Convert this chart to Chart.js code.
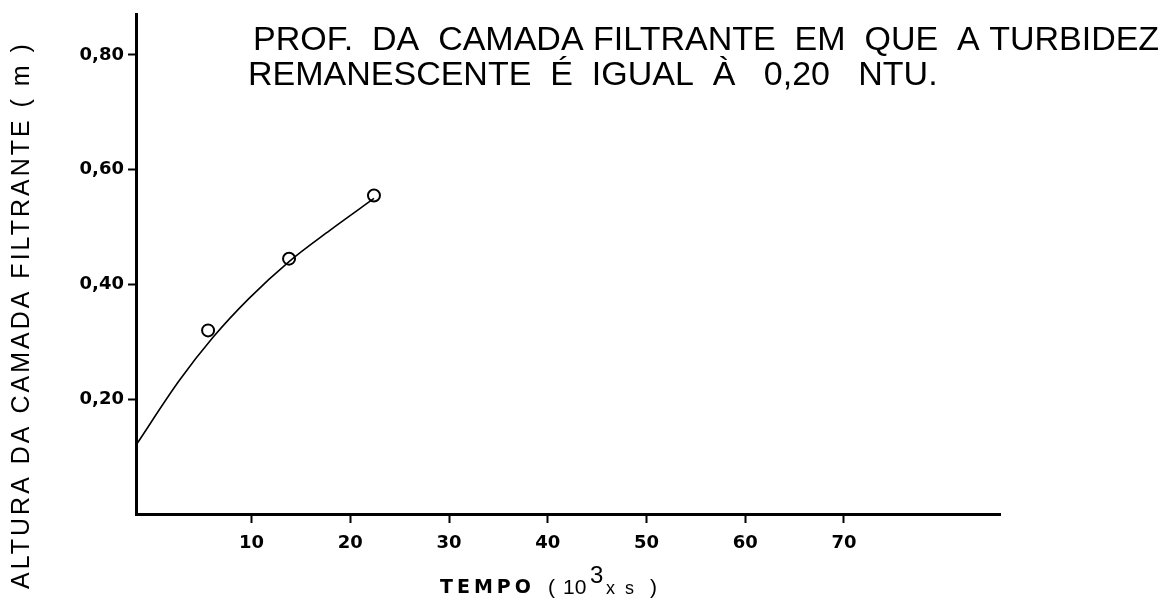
<!DOCTYPE html>
<html lang="pt-BR">
<head>
<meta charset="utf-8">
<title>Profundidade da camada filtrante</title>
<script src="https://cdn.jsdelivr.net/npm/chart.js@4.4.1/dist/chart.umd.min.js"></script>
<style>
    html, body { margin: 0; padding: 0; background: #fff; }
    #caixa { position: relative; width: 1170px; height: 604px; }
</style>
</head>
<body>
<div id="caixa"><canvas id="profChart"></canvas></div>
<script>
// Dados
const tempoPontos = [5.6, 13.8, 22.4];       // 10^3 x s
const alturaPontos = [0.32, 0.445, 0.555];   // m

// Curva ajustada (traço contínuo)
const tempoCurva = [-1.7, 2.7, 6.1, 9.7, 13.8, 17.9, 22.4];
const alturaCurva = [0.12, 0.233, 0.308, 0.375, 0.44, 0.494, 0.55];

// Marcas dos eixos
const tempoTicks = [10, 20, 30, 40, 50, 60, 70];
const alturaTicks = [0.2, 0.4, 0.6, 0.8];
const alturaRotulos = ['0,20', '0,40', '0,60', '0,80'];

// Textos
const tituloLinha1 = 'PROF.  DA  CAMADA FILTRANTE  EM  QUE  A TURBIDEZ';
const tituloLinha2 = 'REMANESCENTE  É  IGUAL  À   0,20   NTU.';
const tituloY = 'ALTURA DA CAMADA FILTRANTE ( m )';

// Escreve o título e os nomes dos eixos
const textos = {
    id: 'textos',
    afterDraw(chart) {
        const c = chart.ctx;
        c.save();
        c.fillStyle = '#000';
        c.textBaseline = 'alphabetic';

        c.font = '34px "Liberation Sans"';
        c.fillText(tituloLinha1, 253, 50, 912);
        c.fillText(tituloLinha2, 248, 85, 690);

        // eixo x: TEMPO ( 10^3 x s )
        c.font = 'bold 19px "DejaVu Sans"';
        c.letterSpacing = '4px';
        c.fillText('TEMPO', 440, 593);
        c.letterSpacing = '0px';
        c.font = '21px "Liberation Sans"';
        c.fillText('(', 548, 594);
        c.fillText('10', 563, 594);
        c.font = '24px "Liberation Sans"';
        c.fillText('3', 590, 583);
        c.font = '18px "Liberation Sans"';
        c.fillText('x  s', 606, 594);
        c.font = '21px "Liberation Sans"';
        c.fillText(')', 650, 594);

        // eixo y
        c.translate(29, 315);
        c.rotate(-Math.PI / 2);
        c.textAlign = 'center';
        c.font = '25px "Liberation Sans"';
        c.letterSpacing = '3px';
        c.fillText(tituloY, 0, 0);
        c.restore();
    }
};

const ctx = document.getElementById('profChart').getContext('2d');

const profChart = new Chart(ctx, {
    type: 'scatter',
    data: {
        datasets: [
            {
                label: 'curva',
                data: tempoCurva.map((t, i) => ({ x: t, y: alturaCurva[i] })),
                showLine: true,
                borderColor: '#000',
                borderWidth: 1.6,
                pointRadius: 0,
                cubicInterpolationMode: 'monotone'
            },
            {
                label: 'pontos',
                data: tempoPontos.map((t, i) => ({ x: t, y: alturaPontos[i] })),
                showLine: false,
                pointRadius: 6,
                pointBorderWidth: 2,
                pointBackgroundColor: '#fff',
                pointBorderColor: '#000'
            }
        ]
    },
    options: {
        responsive: true,
        maintainAspectRatio: false,
        animation: false,
        layout: { padding: { top: 8, right: 170, left: 0, bottom: 0 } },
        plugins: {
            legend: { display: false },
            tooltip: { enabled: false }
        },
        scales: {
            x: {
                type: 'linear',
                min: -1.7,
                max: 85.8,
                afterFit: (scale) => { scale.height = 90; },
                afterBuildTicks: (scale) => {
                    scale.ticks = tempoTicks.map(v => ({ value: v }));
                },
                ticks: {
                    color: '#000',
                    padding: 10,
                    font: { family: 'DejaVu Sans', size: 18, weight: 'bold' },
                    callback: (v) => String(v)
                },
                grid: {
                    drawOnChartArea: false,
                    drawTicks: true,
                    tickLength: 9,
                    tickWidth: 2,
                    tickColor: '#000'
                },
                border: { display: true, color: '#000', width: 3 }
            },
            y: {
                type: 'linear',
                min: 0,
                max: 0.87,
                afterFit: (scale) => { scale.width = 136; },
                afterBuildTicks: (scale) => {
                    scale.ticks = alturaTicks.map(v => ({ value: v }));
                },
                ticks: {
                    color: '#000',
                    padding: 4,
                    font: { family: 'DejaVu Sans', size: 18, weight: 'bold' },
                    callback: (v) => alturaRotulos[alturaTicks.indexOf(v)]
                },
                grid: {
                    drawOnChartArea: false,
                    drawTicks: true,
                    tickLength: 8,
                    tickWidth: 2,
                    tickColor: '#000'
                },
                border: { display: true, color: '#000', width: 3 }
            }
        }
    },
    plugins: [textos]
});
</script>
</body>
</html>
